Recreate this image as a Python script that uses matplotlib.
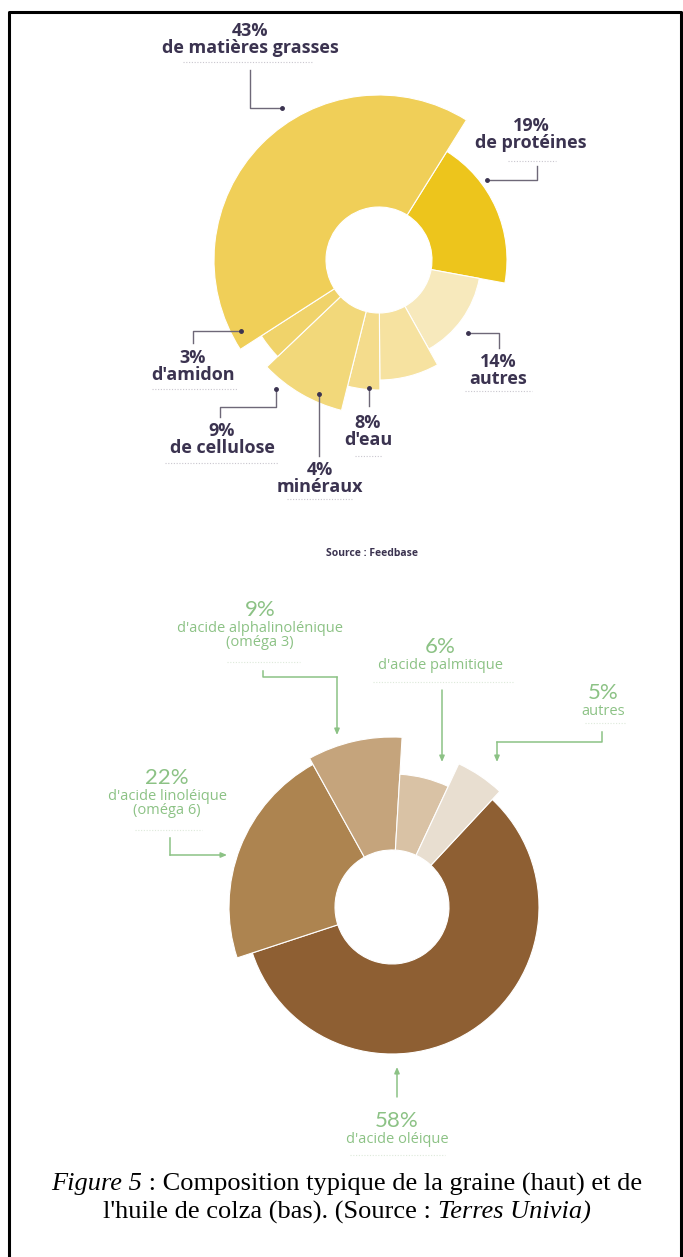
import numpy as np
import matplotlib.pyplot as plt

# %% Données ---------------------------------------------------

# graine de colza (haut), dans le sens horaire à partir de 32° (nord = 0)
graine_pct = [19, 14, 8, 4, 9, 3, 43]
graine_noms = ['de protéines', 'autres', "d'eau", 'minéraux',
               'de cellulose', "d'amidon", 'de matières grasses']
graine_rayons = [128, 102, 120, 130, 155, 140, 165]
graine_couleurs = ['#EDC51C', '#F7E9BC', '#F6E2A0', '#F4DC8C',
                   '#F2D87A', '#F0D36A', '#F0CF58']
graine_debut = 32

# huile de colza (bas), sens horaire à partir de 43°
huile_pct = [58, 22, 9, 6, 5]
huile_noms = ["d'acide oléique", "d'acide linoléique\n(oméga 6)",
              "d'acide alphalinolénique\n(oméga 3)", "d'acide palmitique",
              'autres']
huile_rayons = [147, 163, 170, 133, 158]
huile_couleurs = ['#8E5F33', '#AD8450', '#C5A47C', '#D9C2A5', '#E8DED0']
huile_debut = 43

W, H = 683, 1257
SOMBRE = '#3B3350'
VERT = '#8CC285'

# %% Figure ----------------------------------------------------

fig = plt.figure(figsize=(W/100, H/100), dpi=100)


def rose(cx, cy, rmax, trou, pct, rayons, couleurs, debut):
    ax = fig.add_axes([(cx-rmax)/W, 1-(cy+rmax)/H, 2*rmax/W, 2*rmax/H],
                      projection='polar')
    ax.set_theta_zero_location('N')
    ax.set_theta_direction(-1)
    larg = np.radians(np.array(pct)*3.6)
    theta = np.radians(debut) + np.concatenate([[0], np.cumsum(larg)[:-1]])
    ax.bar(theta, np.array(rayons)-trou, width=larg, bottom=trou,
           align='edge', color=couleurs, edgecolor='white', linewidth=0.8)
    ax.set_ylim(0, rmax)
    ax.set_axis_off()
    return ax


rose(379, 260, 180, 53, graine_pct, graine_rayons, graine_couleurs, graine_debut)
rose(392, 907, 180, 57, huile_pct, huile_rayons, huile_couleurs, huile_debut)

# calque en pixels pour textes et renvois
ax = fig.add_axes([0, 0, 1, 1])
ax.set_xlim(0, W)
ax.set_ylim(H, 0)
ax.axis('off')

# cadre
ax.plot([9, 9, 681, 681, 9], [1262, 12, 12, 1262, 1262], color='black',
        lw=2.2, clip_on=False)


def etiquette_haut(x, y, pct, nom, u0, u1, uy, chemin):
    ax.text(x, y, f'{pct}%', ha='center', va='center', fontsize=13,
            fontweight='bold', color=SOMBRE, family='Open Sans')
    ax.text(x, y+17, nom, ha='center', va='center', fontsize=13,
            fontweight='bold', color=SOMBRE, family='Open Sans')
    ax.plot([u0, u1], [uy, uy], color='#C9C6CE', lw=0.8, ls=(0, (1, 1.5)))
    xs, ys = zip(*chemin)
    ax.plot(xs, ys, color='#6E6878', lw=1)
    ax.plot(xs[-1], ys[-1], 'o', color=SOMBRE, ms=2.5)


etiquette_haut(250, 31, 43, graine_noms[6], 183, 313, 62,
               [(250, 70), (250, 108), (282, 108)])
etiquette_haut(531, 126, 19, graine_noms[0], 508, 556, 161,
               [(537, 166), (537, 180), (487, 180)])
etiquette_haut(498, 362, 14, graine_noms[1], 465, 532, 391,
               [(499, 348), (499, 333), (468, 333)])
etiquette_haut(368, 423, 8, graine_noms[2], 355, 382, 456,
               [(369, 406), (369, 388)])
etiquette_haut(320, 470, 4, graine_noms[3], 287, 352, 499,
               [(319, 456), (319, 394)])
etiquette_haut(222, 431, 9, graine_noms[4], 165, 278, 463,
               [(220, 417), (220, 407), (276, 407), (276, 389)])
etiquette_haut(193, 358, 3, graine_noms[5], 152, 238, 389,
               [(193, 343), (193, 331), (241, 331)])

ax.text(372, 553, 'Source : Feedbase', ha='center', va='center',
        fontsize=7.5, fontweight='bold', color=SOMBRE, family='Open Sans')


def etiquette_bas(x, y, pct, nom, u0, u1, uy, chemin):
    ax.text(x, y, f'{pct}%', ha='center', va='center', fontsize=16,
            color=VERT, family='Lato')
    ax.text(x, y+11, nom, ha='center', va='top', fontsize=10.5,
            color=VERT, family='Open Sans', linespacing=0.9)
    ax.plot([u0, u1], [uy, uy], color='#DDE9DA', lw=0.8, ls=(0, (1, 1.5)))
    xs, ys = zip(*chemin)
    ax.plot(xs[:-1], ys[:-1], color=VERT, lw=1.1)
    ax.annotate('', xy=chemin[-1], xytext=chemin[-2],
                arrowprops=dict(arrowstyle='-|>,head_length=0.35,head_width=0.15',
                                color=VERT, lw=1.1, shrinkA=0, shrinkB=0))


etiquette_bas(260, 610, 9, huile_noms[2], 227, 300, 662,
              [(263, 671), (263, 677), (337, 677), (337, 735)])
etiquette_bas(440, 647, 6, huile_noms[3], 373, 513, 682,
              [(442, 690), (442, 762)])
etiquette_bas(603, 693, 5, huile_noms[4], 585, 625, 723,
              [(602, 732), (602, 742), (497, 742), (497, 762)])
etiquette_bas(167, 778, 22, huile_noms[1], 135, 202, 830,
              [(170, 838), (170, 855), (227, 855)])
etiquette_bas(397, 1121, 58, huile_noms[0], 350, 445, 1155,
              [(397, 1097), (397, 1067)])

# légende de la figure, morceaux droits et italiques
rend = fig.canvas.get_renderer()


def ligne(y, morceaux, xc=347):
    objs = [ax.text(0, y, t, style=s, fontsize=19, family='Liberation Serif',
                    ha='left', va='center') for t, s in morceaux]
    larg = [o.get_window_extent(rend).width for o in objs]
    x = xc - sum(larg)/2
    for o, l in zip(objs, larg):
        o.set_x(x)
        x += l


ligne(1184, [('Figure 5', 'italic'),
             (' : Composition typique de la graine (haut) et de', 'normal')])
ligne(1212, [("l'huile de colza (bas). (Source : ", 'normal'),
             ('Terres Univia)', 'italic')])

fig.savefig('out.png', dpi=100, facecolor='white')
